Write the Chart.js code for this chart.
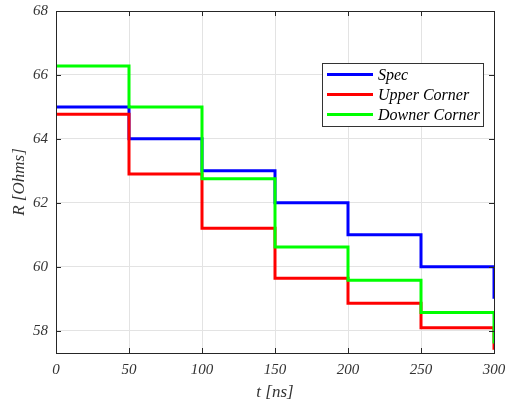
<!DOCTYPE html>
<html lang="en">
<head>
    <meta charset="UTF-8">
    <title>R vs t</title>
    <script src="https://cdn.jsdelivr.net/npm/chart.js"></script>
    <style>
        html, body { margin: 0; padding: 0; background: #fff; }
        .chart-container { width: 506px; height: 404px; }
    </style>
</head>
<body>
    <div class="chart-container">
        <canvas id="grafico" width="506" height="404"></canvas>
    </div>

    <script>
        // data
        const tempos = [0, 50, 100, 150, 200, 250, 300];
        const spec = [65, 64, 63, 62, 61, 60, 59];
        const upperCorner = [64.77, 62.9, 61.2, 59.64, 58.86, 58.09, 57.4];
        const downerCorner = [66.28, 65, 62.75, 60.62, 59.58, 58.57, 57.6];
        const yTicks = [58, 60, 62, 64, 66, 68];
        const xTicks = [0, 50, 100, 150, 200, 250, 300];

        const serie = (vals) => tempos.map((t, i) => ({ x: t, y: vals[i] }));
        const fonte = (size) => ({ family: '"Liberation Serif", "DejaVu Serif", serif', style: 'italic', size: size });

        // box, inner ticks and legend drawn like matlab
        const caixa = {
            id: 'caixa',
            afterDatasetsDraw(chart) {
                const { ctx, chartArea: a, scales } = chart;
                ctx.save();
                ctx.strokeStyle = '#262626';
                ctx.lineWidth = 1;
                ctx.strokeRect(a.left + 0.5, a.top + 0.5, a.right - a.left, a.bottom - a.top);
                ctx.beginPath();
                xTicks.forEach(v => {
                    const px = Math.round(scales.x.getPixelForValue(v)) + 0.5;
                    ctx.moveTo(px, a.bottom); ctx.lineTo(px, a.bottom - 5);
                    ctx.moveTo(px, a.top); ctx.lineTo(px, a.top + 5);
                });
                yTicks.forEach(v => {
                    const py = Math.round(scales.y.getPixelForValue(v)) + 0.5;
                    ctx.moveTo(a.left, py); ctx.lineTo(a.left + 5, py);
                    ctx.moveTo(a.right, py); ctx.lineTo(a.right - 5, py);
                });
                ctx.stroke();

                // legend
                const lx = 322, ly = 63, lw = 161, lh = 63;
                ctx.fillStyle = '#fff';
                ctx.fillRect(lx, ly, lw, lh);
                ctx.strokeStyle = '#333';
                ctx.strokeRect(lx + 0.5, ly + 0.5, lw, lh);
                ctx.font = 'italic 16px "Liberation Serif", serif';
                ctx.textBaseline = 'middle';
                chart.data.datasets.forEach((ds, i) => {
                    const y = ly + 11.5 + i * 20;
                    ctx.strokeStyle = ds.borderColor;
                    ctx.lineWidth = 3;
                    ctx.beginPath();
                    ctx.moveTo(lx + 5, y); ctx.lineTo(lx + 51, y);
                    ctx.stroke();
                    ctx.fillStyle = '#000';
                    ctx.fillText(ds.label, lx + 56, y + 1);
                });
                ctx.restore();
            }
        };

        const ctx = document.getElementById('grafico').getContext('2d');
        new Chart(ctx, {
            type: 'line',
            data: {
                datasets: [
                    { label: 'Spec', data: serie(spec), borderColor: '#0000ff', order: 3 },
                    { label: 'Upper Corner', data: serie(upperCorner), borderColor: '#ff0000', order: 2 },
                    { label: 'Downer Corner', data: serie(downerCorner), borderColor: '#00ff00', order: 1 }
                ]
            },
            options: {
                responsive: false,
                animation: false,
                layout: { autoPadding: false, padding: { top: 11, right: 12, left: 0, bottom: 0 } },
                elements: {
                    line: { borderWidth: 3, stepped: true, fill: false },
                    point: { radius: 0 }
                },
                plugins: {
                    legend: { display: false },
                    tooltip: { enabled: false }
                },
                scales: {
                    x: {
                        type: 'linear',
                        min: 0,
                        max: 300,
                        afterBuildTicks: (s) => { s.ticks = xTicks.map(v => ({ value: v })); },
                        afterFit: (s) => { s.height = 51; s.paddingLeft = 0; s.paddingRight = 0; },
                        grid: { color: '#e3e3e3', drawTicks: false },
                        border: { display: false },
                        ticks: { padding: 8, color: '#333', font: fonte(15), maxRotation: 0 },
                        title: { display: true, text: 't [ns]', color: '#333', font: fonte(17), padding: { top: 0, bottom: 1 } }
                    },
                    y: {
                        min: 57.3,
                        max: 68,
                        afterBuildTicks: (s) => { s.ticks = yTicks.map(v => ({ value: v })); },
                        afterFit: (s) => { s.width = 56; s.paddingTop = 0; s.paddingBottom = 0; },
                        grid: { color: '#e3e3e3', drawTicks: false },
                        border: { display: false },
                        ticks: { padding: 8, color: '#333', font: fonte(15) },
                        title: { display: true, text: 'R [Ohms]', color: '#333', font: fonte(17), padding: { top: 9, bottom: 0 } }
                    }
                }
            },
            plugins: [caixa]
        });
    </script>
</body>
</html>
